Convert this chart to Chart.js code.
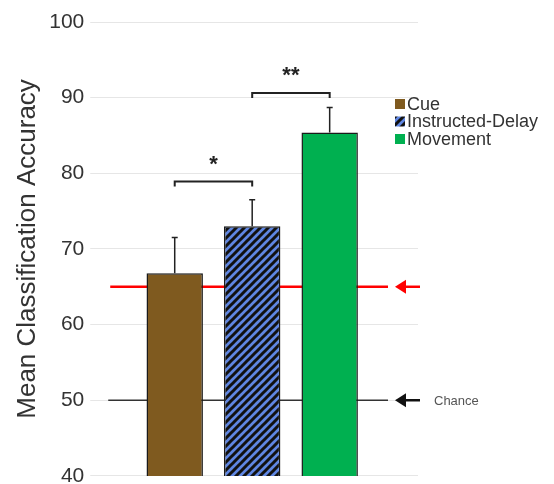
<!DOCTYPE html>
<html>
<head>
<meta charset="utf-8">
<script src="https://cdn.jsdelivr.net/npm/chart.js@4/dist/chart.umd.min.js"></script>
<style>
  body { margin: 0; background: #fff; }
</style>
</head>
<body>
<canvas id="acc" width="554" height="484"></canvas>
<script>
const categories = ['Cue', 'Instructed-Delay', 'Movement'];
const meanAccuracy = [66.8, 73.0, 85.4];
const errorTop = [71.5, 76.5, 88.7];
const chanceLevel = 50;
const thresholdLevel = 65;
const comparisons = [
  { from: 0, to: 1, level: 78.9, mark: '*' },
  { from: 1, to: 2, level: 90.6, mark: '**' }
];
const yMin = 40, yMax = 100, yStep = 10;

const FONT = '"Liberation Sans", Arial, sans-serif';

function stripes() {
  const c = document.createElement('canvas');
  c.width = 8; c.height = 8;
  const g = c.getContext('2d');
  g.fillStyle = '#5f86e2';
  g.fillRect(0, 0, 8, 8);
  g.strokeStyle = '#111';
  g.lineWidth = 3;
  g.beginPath();
  g.moveTo(0, 8); g.lineTo(8, 0);
  g.moveTo(-2, 2); g.lineTo(2, -2);
  g.moveTo(6, 10); g.lineTo(10, 6);
  g.stroke();
  return document.getElementById('acc').getContext('2d').createPattern(c, 'repeat');
}

const hatch = stripes();
const fills = ['#7f5a1f', hatch, '#00b050'];

function arrow(ctx, x, y, color, w) {
  ctx.save();
  ctx.strokeStyle = color;
  ctx.fillStyle = color;
  ctx.lineWidth = w;
  ctx.beginPath();
  ctx.moveTo(x + 8, y); ctx.lineTo(x + 25, y);
  ctx.stroke();
  ctx.beginPath();
  ctx.moveTo(x, y); ctx.lineTo(x + 11, y - 7); ctx.lineTo(x + 11, y + 7);
  ctx.closePath();
  ctx.fill();
  ctx.restore();
}

const overlay = {
  id: 'overlay',
  beforeDatasetsDraw(chart) {
    const { ctx, chartArea, scales: { y } } = chart;
    const x0 = chartArea.left + 11, x1 = chartArea.right - 30;
    ctx.save();
    ctx.strokeStyle = '#333';
    ctx.lineWidth = 1.5;
    ctx.beginPath();
    ctx.moveTo(x0, y.getPixelForValue(chanceLevel));
    ctx.lineTo(x1, y.getPixelForValue(chanceLevel));
    ctx.stroke();
    ctx.strokeStyle = '#ff0000';
    ctx.lineWidth = 2.5;
    ctx.beginPath();
    ctx.moveTo(x0 + 2, y.getPixelForValue(thresholdLevel));
    ctx.lineTo(x1, y.getPixelForValue(thresholdLevel));
    ctx.stroke();
    ctx.restore();
  },
  afterDatasetsDraw(chart) {
    const { ctx, chartArea, scales: { x, y } } = chart;
    ctx.save();
    // upper error bars
    ctx.strokeStyle = '#222';
    ctx.lineWidth = 1.5;
    errorTop.forEach((v, i) => {
      const px = x.getPixelForValue(i);
      const top = y.getPixelForValue(v);
      ctx.beginPath();
      ctx.moveTo(px, y.getPixelForValue(meanAccuracy[i]));
      ctx.lineTo(px, top);
      ctx.moveTo(px - 3, top); ctx.lineTo(px + 3, top);
      ctx.stroke();
    });
    // significance brackets
    ctx.lineWidth = 2;
    ctx.fillStyle = '#222';
    ctx.font = 'bold 22px ' + FONT;
    ctx.textAlign = 'center';
    ctx.textBaseline = 'middle';
    comparisons.forEach(c => {
      const a = x.getPixelForValue(c.from), b = x.getPixelForValue(c.to);
      const py = y.getPixelForValue(c.level);
      ctx.beginPath();
      ctx.moveTo(a, py + 5); ctx.lineTo(a, py); ctx.lineTo(b, py); ctx.lineTo(b, py + 5);
      ctx.stroke();
      ctx.fillText(c.mark, (a + b) / 2, py - 17);
    });
    // arrows and chance label
    const ax = chartArea.right - 23;
    arrow(ctx, ax, y.getPixelForValue(thresholdLevel), '#ff0000', 2.5);
    arrow(ctx, ax, y.getPixelForValue(chanceLevel), '#111', 2.5);
    ctx.fillStyle = '#555';
    ctx.font = '13px ' + FONT;
    ctx.textAlign = 'left';
    ctx.fillText('Chance', ax + 39, y.getPixelForValue(chanceLevel) + 1);
    // legend
    ctx.font = '18px ' + FONT;
    ctx.textBaseline = 'middle';
    categories.forEach((name, i) => {
      const ly = 104 + i * 17.5;
      const lx = chartArea.right - 23;
      ctx.fillStyle = fills[i];
      ctx.fillRect(lx, ly - 5, 10, 10);
      ctx.fillStyle = '#333';
      ctx.fillText(name, lx + 12, ly + 1);
    });
    ctx.restore();
  }
};

new Chart(document.getElementById('acc'), {
  type: 'bar',
  data: {
    datasets: [{
      data: categories.map((c, i) => ({ x: i, y: meanAccuracy[i] })),
      backgroundColor: fills,
      borderColor: '#1a1a1a',
      borderWidth: 1.5,
      borderSkipped: false,
      barPercentage: 0.91,
      categoryPercentage: 0.8
    }]
  },
  options: {
    responsive: false,
    animation: false,
    layout: { padding: { left: 12, right: 136, top: 22, bottom: 0 } },
    plugins: { legend: { display: false }, tooltip: { enabled: false } },
    scales: {
      x: { type: 'linear', min: -1, max: 3.14, display: false, offset: false },
      y: {
        min: yMin, max: yMax,
        ticks: { stepSize: yStep, color: '#333', padding: 6, font: { family: FONT, size: 21, lineHeight: 0.2 } },
        grid: { color: '#e6e6e6', tickLength: 7, drawTicks: true },
        border: { display: false },
        title: {
          display: true,
          text: 'Mean Classification Accuracy',
          color: '#333',
          font: { family: FONT, size: 26 },
          padding: { top: 0, bottom: 0 }
        }
      }
    }
  },
  plugins: [overlay]
});
</script>
</body>
</html>
